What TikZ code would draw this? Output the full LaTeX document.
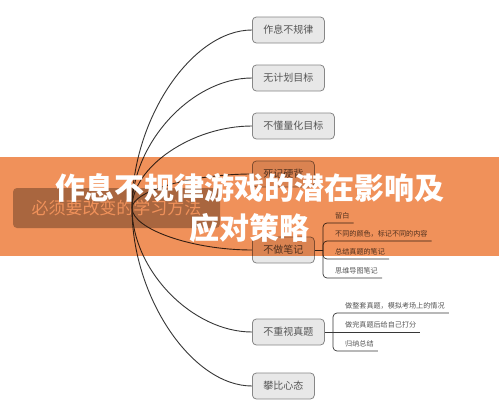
\documentclass[tikz,border=0pt]{standalone}
\usepackage{fontspec}
\newfontfamily\cjk{Noto Sans CJK SC}
\definecolor{bannerc}{RGB}{240,145,90}
\definecolor{rootc}{RGB}{180,180,180}
\definecolor{boxc}{RGB}{232,232,232}
\definecolor{boxline}{RGB}{135,135,135}
\definecolor{linkc}{RGB}{55,55,55}
\definecolor{txtc}{RGB}{85,85,85}
\begin{document}
\begin{tikzpicture}[x=1pt,y=-1pt,
  mnode/.style={draw=boxline, fill=boxc, rounded corners=4pt, line width=0.8pt,
    minimum height=26pt, inner xsep=11pt, anchor=west, text=txtc,
    font=\cjk\fontsize{10}{12}\selectfont},
  rootbox/.style={fill=rootc, rounded corners=4pt, minimum width=207pt,
    minimum height=40pt, text=white, font=\cjk\fontsize{17}{20}\selectfont},
  link/.style={draw=linkc, line width=0.9pt},
  sublink/.style={draw=linkc, line width=0.7pt, rounded corners=4pt},
  subitem/.style={anchor=south west, inner xsep=0pt, inner ysep=4pt, text=txtc,
    font=\cjk\fontsize{7.1}{9}\selectfont},
  banner/.style={fill=bannerc, blend mode=multiply, minimum width=499pt,
    minimum height=99pt, inner sep=0pt},
  titletext/.style={text=white, align=center,
    font=\cjk\bfseries\fontsize{30}{40}\selectfont}]
\useasboundingbox (0,0) rectangle (499,413);
\fill[white] (0,0) rectangle (499,413);

% root and branches
\node[rootbox] (root) at (116.5,208) {必须要改变的学习方法};
\coordinate (o) at (132,208);

\node[mnode] (n1) at (252,30) {作息不规律};
\node[mnode] (n2) at (252,78) {无计划目标};
\node[mnode] (n3) at (252,126) {不懂量化目标};
\node[mnode] (n4) at (252,174) {死记硬背};
\node[mnode] (n5) at (252,250) {不做笔记};
\node[mnode] (n6) at (252,332) {不重视真题};
\node[mnode] (n7) at (252,386) {攀比心态};

\draw[link] (o) .. controls (132,119) and (192,30) .. (n1.west);
\draw[link] (o) .. controls (132,143) and (192,78) .. (n2.west);
\draw[link] (o) .. controls (132,167) and (192,126) .. (n3.west);
\draw[link] (o) .. controls (132,191) and (192,174) .. (n4.west);
\draw[link] (o) .. controls (132,229) and (192,250) .. (n5.west);
\draw[link] (o) .. controls (132,270) and (192,332) .. (n6.west);
\draw[link] (o) .. controls (132,297) and (192,386) .. (n7.west);

% sub items of 不做笔记
\coordinate (s5) at (323,250);
\draw[link, line width=0.7pt] (n5.east) -- (s5);
\node[subitem] (a1) at (335,223) {留白};
\node[subitem] (a2) at (335,241) {不同的颜色，标记不同的内容};
\node[subitem] (a3) at (335,259) {总结真题的笔记};
\node[subitem] (a4) at (335,278) {思维导图笔记};
\draw[sublink] (s5) |- ([xshift=4pt]a1.south east);
\draw[sublink] (s5) |- ([xshift=4pt]a2.south east);
\draw[sublink] (s5) |- ([xshift=4pt]a3.south east);
\draw[sublink] (s5) |- ([xshift=4pt]a4.south east);

% sub items of 不重视真题
\coordinate (s6) at (333,332);
\draw[link, line width=0.7pt] (n6.east) -- (s6);
\node[subitem] (b1) at (345,313) {做整套真题，模拟考场上的情况};
\node[subitem] (b2) at (345,332) {做完真题后给自己打分};
\node[subitem] (b3) at (345,351) {归纳总结};
\draw[sublink] (s6) |- ([xshift=4pt]b1.south east);
\draw[sublink] (s6) -- ([xshift=4pt]b2.south east);
\draw[sublink] (s6) |- ([xshift=4pt]b3.south east);

% banner overlay and title
\node[banner] (band) at (249.5,206.5) {};
\node[titletext] (title) at (250,208) {作息不规律游戏的潜在影响及\\应对策略};
\end{tikzpicture}
\end{document}
